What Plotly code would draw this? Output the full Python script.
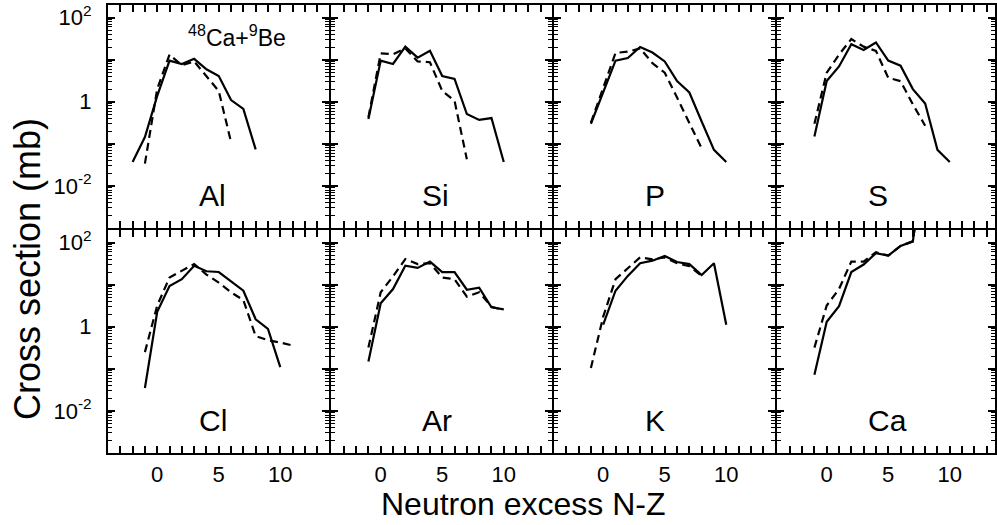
import plotly.graph_objects as go

# ---------------- data (cross sections in mb) ----------------
elements = ["Al", "Si", "P", "S", "Cl", "Ar", "K", "Ca"]

al_x_solid = [-2, -1, 0, 1, 2, 3, 4, 5, 6, 7, 8]
al_solid = [0.037, 0.145, 1.38, 9.5, 7.9, 10.5, 5.9, 4.1, 1.10, 0.68, 0.074]
al_x_dash = [-1, 0, 1, 2, 3, 4, 5, 6]
al_dash = [0.034, 2.0, 13.2, 7.4, 9.1, 4.1, 1.8, 0.11]

si_x_solid = [-1, 0, 1, 2, 3, 4, 5, 6, 7, 8, 9, 10]
si_solid = [0.39, 9.5, 7.9, 20.4, 11.2, 16.2, 4.1, 3.5, 0.51, 0.37, 0.41, 0.037]
si_x_dash = [-1, 0, 1, 2, 3, 4, 5, 6, 7]
si_dash = [0.43, 14.1, 13.5, 18.6, 9.1, 8.7, 1.8, 1.05, 0.043]

p_x_solid = [-1, 0, 1, 2, 3, 4, 5, 6, 7, 8, 9, 10]
p_solid = [0.30, 1.66, 9.5, 11.0, 20.0, 14.8, 9.1, 3.1, 1.66, 0.34, 0.072, 0.037]
p_x_dash = [-1, 0, 1, 2, 3, 4, 5, 6, 7, 8]
p_dash = [0.32, 2.1, 14.5, 15.5, 18.6, 8.3, 4.9, 1.26, 0.32, 0.078]

s_x_solid = [-1, 0, 1, 2, 3, 4, 5, 6, 7, 8, 9, 10]
s_solid = [0.15, 3.1, 6.9, 23.4, 17.0, 25.7, 9.5, 7.2, 2.0, 0.91, 0.072, 0.037]
s_x_dash = [-1, 0, 1, 2, 3, 4, 5, 6, 7, 8]
s_dash = [0.30, 4.9, 13.2, 30.9, 20.4, 16.2, 3.7, 3.1, 0.87, 0.27]

cl_x_solid = [-1, 0, 1, 2, 3, 4, 5, 6, 7, 8, 9, 10]
cl_solid = [0.035, 2.26, 9.3, 13.5, 28.2, 20.9, 20.0, 11.7, 7.2, 1.51, 0.89, 0.11]
cl_x_dash = [-1, 0, 1, 2, 3, 4, 5, 6, 7, 8, 9, 10, 11]
cl_dash = [0.25, 3.2, 14.8, 21.9, 30.9, 17.4, 11.2, 6.6, 4.3, 0.60, 0.48, 0.42, 0.36]

ar_x_solid = [-1, 0, 1, 2, 3, 4, 5, 6, 7, 8, 9, 10]
ar_solid = [0.15, 3.6, 7.9, 28.2, 25.1, 35.5, 20.0, 20.0, 7.6, 8.5, 2.9, 2.6]
ar_x_dash = [-1, 0, 1, 2, 3, 4, 5, 6, 7, 8, 9, 10]
ar_dash = [0.32, 6.6, 15.8, 40.7, 30.9, 32.4, 14.8, 13.5, 5.2, 6.6, 3.0, 2.5]

k_x_solid = [0, 1, 2, 3, 4, 5, 6, 7, 8, 9, 10]
k_solid = [1.12, 7.2, 16.2, 32.4, 37.2, 47.9, 34.7, 30.9, 17.0, 32.4, 1.12]
k_x_dash = [-1, 0, 1, 2, 3, 4, 5, 6, 7, 8]
k_dash = [0.105, 1.74, 13.5, 25.1, 44.7, 39.8, 44.7, 32.4, 27.5, 16.2]

ca_x_solid = [-1, 0, 1, 2, 3, 4, 5, 6, 7, 8]
ca_solid = [0.072, 1.32, 3.1, 20.0, 30.2, 56.2, 49.0, 83.2, 107, 15800]
ca_x_dash = [-1, 0, 1, 2, 3, 4, 5, 6, 7, 8]
ca_dash = [0.32, 3.2, 7.9, 35.5, 35.5, 58.9, 49.0, 83.2, 107, 15800]

series = [
    (al_x_solid, al_solid, al_x_dash, al_dash),
    (si_x_solid, si_solid, si_x_dash, si_dash),
    (p_x_solid, p_solid, p_x_dash, p_dash),
    (s_x_solid, s_solid, s_x_dash, s_dash),
    (cl_x_solid, cl_solid, cl_x_dash, cl_dash),
    (ar_x_solid, ar_solid, ar_x_dash, ar_dash),
    (k_x_solid, k_solid, k_x_dash, k_dash),
    (ca_x_solid, ca_solid, ca_x_dash, ca_dash),
]

x_tickvals = [0, 5, 10]
x_ticktext = ["0", "5", "10"]
y_label_vals = [1e-2, 1, 100]
y_label_text = ["10<sup>-2</sup>", "1", "10<sup>2</sup>"]
y_unlabeled_decades = [1e-3, 1e-1, 10]
y_minor = [k * 10.0 ** d for d in range(-3, 3) for k in range(2, 10)]

# ---------------- layout geometry (pixels) ----------------
W, H = 997, 525
ML, MR, MT, MB = 106, 0, 1, 70
pw = W - ML - MR
ph = H - MT - MB
line_x = [107, 331, 554, 778, 1001]   # centres of vertical frame lines
line_y = [2, 228, 454]                # centres of horizontal frame lines
col_px = [[line_x[i] + 1, min(line_x[i + 1] - 1, W)] for i in range(4)]
row_px = [[line_y[0] + 1, line_y[1] - 1], [line_y[1] + 1, line_y[2] - 1]]
col_dom = [[(a - ML) / pw, (b - ML) / pw] for a, b in col_px]
row_dom = [[(H - MB - b) / ph, (H - MB - a) / ph] for a, b in row_px]
full_w = line_x[1] - line_x[0] - 2
unit = full_w / 18.0
FONT = "Liberation Sans, Arial, Helvetica, sans-serif"
YR = [-3, 2.3]

fig = go.Figure()
for i, (xs, ys, xd, yd) in enumerate(series):
    n = i + 1
    xa = "x" if n == 1 else f"x{n}"
    ya = "y" if n == 1 else f"y{n}"
    fig.add_trace(go.Scatter(x=xs, y=ys, mode="lines", xaxis=xa, yaxis=ya,
                             line=dict(color="black", width=2.2), showlegend=False,
                             hoverinfo="skip"))
    fig.add_trace(go.Scatter(x=xd, y=yd, mode="lines", xaxis=xa, yaxis=ya,
                             line=dict(color="black", width=2.2, dash="8px,5px"),
                             showlegend=False, hoverinfo="skip"))
    # empty trace to host the overlay axis carrying the unlabeled decade ticks
    fig.add_trace(go.Scatter(x=[], y=[], mode="lines", xaxis=xa, yaxis=f"y{n + 8}",
                             showlegend=False, hoverinfo="skip"))

for i in range(8):
    n = i + 1
    r, c = divmod(i, 4)
    w_px = col_px[c][1] - col_px[c][0]
    xr = [-4, -4 + w_px / unit]
    xkey = "xaxis" if n == 1 else f"xaxis{n}"
    ykey = "yaxis" if n == 1 else f"yaxis{n}"
    xname = "x" if n == 1 else f"x{n}"
    yname = "y" if n == 1 else f"y{n}"
    fig.layout[xkey] = dict(
        domain=col_dom[c], anchor=yname, range=xr,
        tickmode="array", tickvals=x_tickvals, ticktext=x_ticktext,
        showticklabels=(r == 1), ticks="inside", ticklen=7, tickwidth=2,
        tickcolor="black", showline=True, linecolor="black", linewidth=2,
        mirror="allticks", showgrid=False, zeroline=False,
        minor=dict(ticks="inside", ticklen=4, tickwidth=1.5, tickcolor="black",
                   dtick=1, tick0=0, showgrid=False),
        tickfont=dict(family=FONT, size=22, color="black"),
        ticklabelstandoff=1,
    )
    fig.layout[ykey] = dict(
        domain=row_dom[r], anchor=xname, type="log",
        range=YR, tickmode="array", tickvals=y_label_vals, ticktext=y_label_text,
        showticklabels=(c == 0), ticks="inside", ticklen=7, tickwidth=2,
        tickcolor="black", showline=True, linecolor="black", linewidth=2,
        mirror="allticks", showgrid=False, zeroline=False,
        minor=dict(ticks="inside", ticklen=4, tickwidth=1.2, tickcolor="black",
                   tickmode="array", tickvals=y_minor, showgrid=False),
        tickfont=dict(family=FONT, size=22, color="black"),
        ticklabelstandoff=10,
    )
    fig.layout[f"yaxis{n + 8}"] = dict(
        overlaying=yname, anchor=xname, type="log", range=YR,
        tickmode="array", tickvals=y_unlabeled_decades, showticklabels=False,
        ticks="inside", ticklen=7, tickwidth=2, tickcolor="black",
        showline=False, mirror="allticks", showgrid=False, zeroline=False,
    )

annotations = []
for i, name in enumerate(elements):
    n = i + 1
    annotations.append(dict(
        text=name, x=3.2, y=-2.23, xref="x" if n == 1 else f"x{n}",
        yref="y" if n == 1 else f"y{n}", xanchor="left", yanchor="middle",
        showarrow=False, font=dict(family=FONT, size=30, color="black")))
annotations.append(dict(
    text="<sup>48</sup>Ca+<sup>9</sup>Be", x=2.35, y=1.56, xref="x", yref="y",
    xanchor="left", yanchor="middle", showarrow=False,
    font=dict(family=FONT, size=23, color="black")))
annotations.append(dict(
    text="Cross section (mb)", x=(28 - ML) / pw, y=(H - MB - 268) / ph,
    xref="paper", yref="paper", textangle=-90, xanchor="center", yanchor="middle",
    showarrow=False, font=dict(family=FONT, size=36, color="black")))
annotations.append(dict(
    text="Neutron excess N-Z", x=(524 - ML) / pw, y=(H - MB - 504) / ph,
    xref="paper", yref="paper", xanchor="center", yanchor="middle",
    showarrow=False, font=dict(family=FONT, size=32, color="black")))

fig.update_layout(
    width=W, height=H, margin=dict(l=ML, r=MR, t=MT, b=MB),
    paper_bgcolor="white", plot_bgcolor="white", annotations=annotations,
    showlegend=False,
)

fig.write_html("out.html")
